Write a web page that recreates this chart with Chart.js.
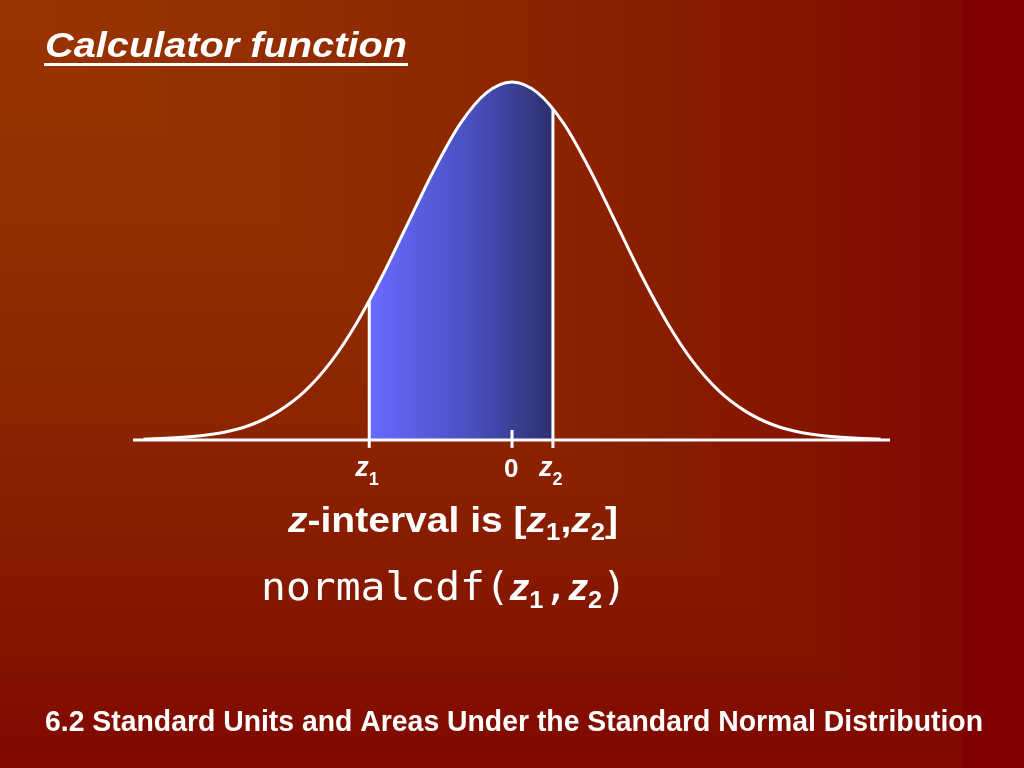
<!DOCTYPE html>
<html>
<head>
<meta charset="utf-8">
<script src="https://cdn.jsdelivr.net/npm/chart.js@4/dist/chart.umd.min.js"></script>
<style>
  html, body { margin: 0; padding: 0; background: #800000; }
  canvas { display: block; }
</style>
</head>
<body>
<canvas id="curve" width="1024" height="768"></canvas>
<script>
// z positions and curve heights (peak = 1)
const curveZ = [-3.55, -3.25, -3, -2.75, -2.5, -2.25, -2, -1.75, -1.5, -1.25, -1, -0.75, -0.5, -0.25, 0,
  0.25, 0.5, 0.75, 1, 1.25, 1.5, 1.75, 2, 2.25, 2.5, 2.75, 3, 3.25, 3.55];
const curveH = [0.002, 0.006, 0.012, 0.023, 0.044, 0.08, 0.135, 0.216, 0.325, 0.458, 0.607, 0.755, 0.883, 0.969, 1,
  0.969, 0.883, 0.755, 0.607, 0.458, 0.325, 0.216, 0.135, 0.08, 0.044, 0.023, 0.012, 0.006, 0.002];

// shaded area between z1 and z2
const shadeZ = [-1.375, -1.25, -1, -0.75, -0.5, -0.25, 0, 0.25, 0.394];
const shadeH = [0.389, 0.458, 0.607, 0.755, 0.883, 0.969, 1, 0.969, 0.925];

const axisZ = [-3.65, 3.64];
const markZ = [-1.375, 0, 0.394];      // z1, 0, z2
const markLabels = ['z', '0', 'z'];
const markSubs = ['1', '', '2'];
const tickLow = -0.022;
const tickHigh = 0.028;

const pts = (xs, ys) => xs.map((x, i) => ({ x: x, y: ys[i] }));

const slide = {
  id: 'slide',
  beforeDraw(chart) {
    const ctx = chart.ctx;
    ctx.save();
    ctx.fillStyle = '#7f0000';
    ctx.fillRect(0, 0, 1024, 768);
    // rectangular gradient spreading out from the top left corner
    const steps = 120;
    for (let i = steps; i >= 0; i--) {
      const t = i / steps;
      const r = Math.round(154 - 26 * t);
      const g = Math.round(51 - 43 * Math.pow(t, 1.8));
      ctx.fillStyle = 'rgb(' + r + ',' + g + ',0)';
      ctx.fillRect(0, 0, Math.ceil(963 * t) + 1, Math.ceil(768 * t) + 1);
    }
    ctx.fillStyle = '#7f0000';
    ctx.fillRect(963, 0, 61, 768);
    ctx.restore();
  },
  afterDraw(chart) {
    const ctx = chart.ctx;
    const xs = chart.scales.x;
    ctx.save();
    ctx.fillStyle = '#ffffff';
    ctx.textBaseline = 'alphabetic';

    const runs = (list, x, y, w) => {
      let total = 0;
      list.forEach(r => { ctx.font = r.f; total += ctx.measureText(r.t).width; });
      const s = w ? w / total : 1;
      ctx.save();
      ctx.translate(x, y);
      ctx.scale(s, 1);
      let cx = 0;
      list.forEach(r => {
        ctx.font = r.f;
        ctx.fillText(r.t, cx, r.dy || 0);
        cx += ctx.measureText(r.t).width;
      });
      ctx.restore();
    };

    const zf = 'italic bold 27px "Liberation Sans", Arial, sans-serif';
    const sf = 'bold 18px "Liberation Sans", Arial, sans-serif';

    // title
    runs([{ t: 'Calculator function', f: 'italic bold 35px "Liberation Sans", Arial, sans-serif' }], 45, 57, 362);
    ctx.fillRect(44, 63, 364, 3);

    // tick labels
    markZ.forEach((z, i) => {
      const px = xs.getPixelForValue(z);
      if (markSubs[i]) {
        runs([{ t: markLabels[i], f: zf }, { t: markSubs[i], f: sf, dy: 9 }], px - 14, 476);
      } else {
        runs([{ t: markLabels[i], f: 'bold 26px "Liberation Sans", Arial, sans-serif' }], px - 8, 477);
      }
    });

    const bi = 'italic bold 35px "Liberation Sans", Arial, sans-serif';
    const b = 'bold 35px "Liberation Sans", Arial, sans-serif';
    const bs = 'bold 23px "Liberation Sans", Arial, sans-serif';
    runs([
      { t: 'z', f: bi }, { t: '-interval is [', f: b },
      { t: 'z', f: bi }, { t: '1', f: bs, dy: 8 }, { t: ',', f: b },
      { t: 'z', f: bi }, { t: '2', f: bs, dy: 8 }, { t: ']', f: b }
    ], 288, 532, 330);

    const m = '39px "DejaVu Sans Mono", monospace';
    const mi = 'italic bold 37px "Liberation Sans", Arial, sans-serif';
    const ms = 'bold 24px "Liberation Sans", Arial, sans-serif';
    runs([
      { t: 'normalcdf(', f: m },
      { t: 'z', f: mi }, { t: '1', f: ms, dy: 8 }, { t: ',', f: m },
      { t: 'z', f: mi }, { t: '2', f: ms, dy: 8 }, { t: ')', f: m }
    ], 261, 600, 366);

    // footer, condensed to the slide width
    runs([{ t: '6.2 Standard Units and Areas Under the Standard Normal Distribution',
      f: 'bold 29px "Liberation Sans", Arial, sans-serif' }], 45, 731, 938);
    ctx.restore();
  }
};

const whiteLine = {
  borderColor: '#ffffff',
  borderWidth: 3,
  pointRadius: 0,
  fill: false,
  clip: false
};

new Chart(document.getElementById('curve'), {
  type: 'line',
  data: {
    datasets: [
      Object.assign({ label: 'curve', data: pts(curveZ, curveH), cubicInterpolationMode: 'monotone', order: 1 }, whiteLine),
      Object.assign({ label: 'z1', data: pts([markZ[0], markZ[0]], [tickLow, shadeH[0]]), order: 1 }, whiteLine),
      Object.assign({ label: 'z2', data: pts([markZ[2], markZ[2]], [tickLow, shadeH[shadeH.length - 1]]), order: 1 }, whiteLine),
      Object.assign({ label: 'zero', data: pts([markZ[1], markZ[1]], [tickLow, tickHigh]), order: 1 }, whiteLine),
      Object.assign({ label: 'axis', data: pts(axisZ, [0, 0]), order: 2 }, whiteLine),
      {
        label: 'area',
        data: pts(shadeZ, shadeH),
        cubicInterpolationMode: 'monotone',
        fill: 'origin',
        borderWidth: 0,
        pointRadius: 0,
        order: 5,
        backgroundColor(context) {
          const chart = context.chart;
          if (!chart.chartArea) return '#5050d0';
          const xs = chart.scales.x;
          const g = chart.ctx.createLinearGradient(xs.getPixelForValue(shadeZ[0]), 0,
            xs.getPixelForValue(shadeZ[shadeZ.length - 1]), 0);
          g.addColorStop(0, '#6a6aff');
          g.addColorStop(0.55, '#4a4fc0');
          g.addColorStop(1, '#2c316e');
          return g;
        }
      }
    ]
  },
  options: {
    responsive: false,
    animation: false,
    layout: { padding: { left: 133, right: 134, top: 82, bottom: 328 } },
    scales: {
      x: { type: 'linear', display: false, min: axisZ[0], max: axisZ[1] },
      y: { display: false, min: 0, max: 1 }
    },
    plugins: {
      legend: { display: false },
      tooltip: { enabled: false }
    }
  },
  plugins: [slide]
});
</script>
</body>
</html>
